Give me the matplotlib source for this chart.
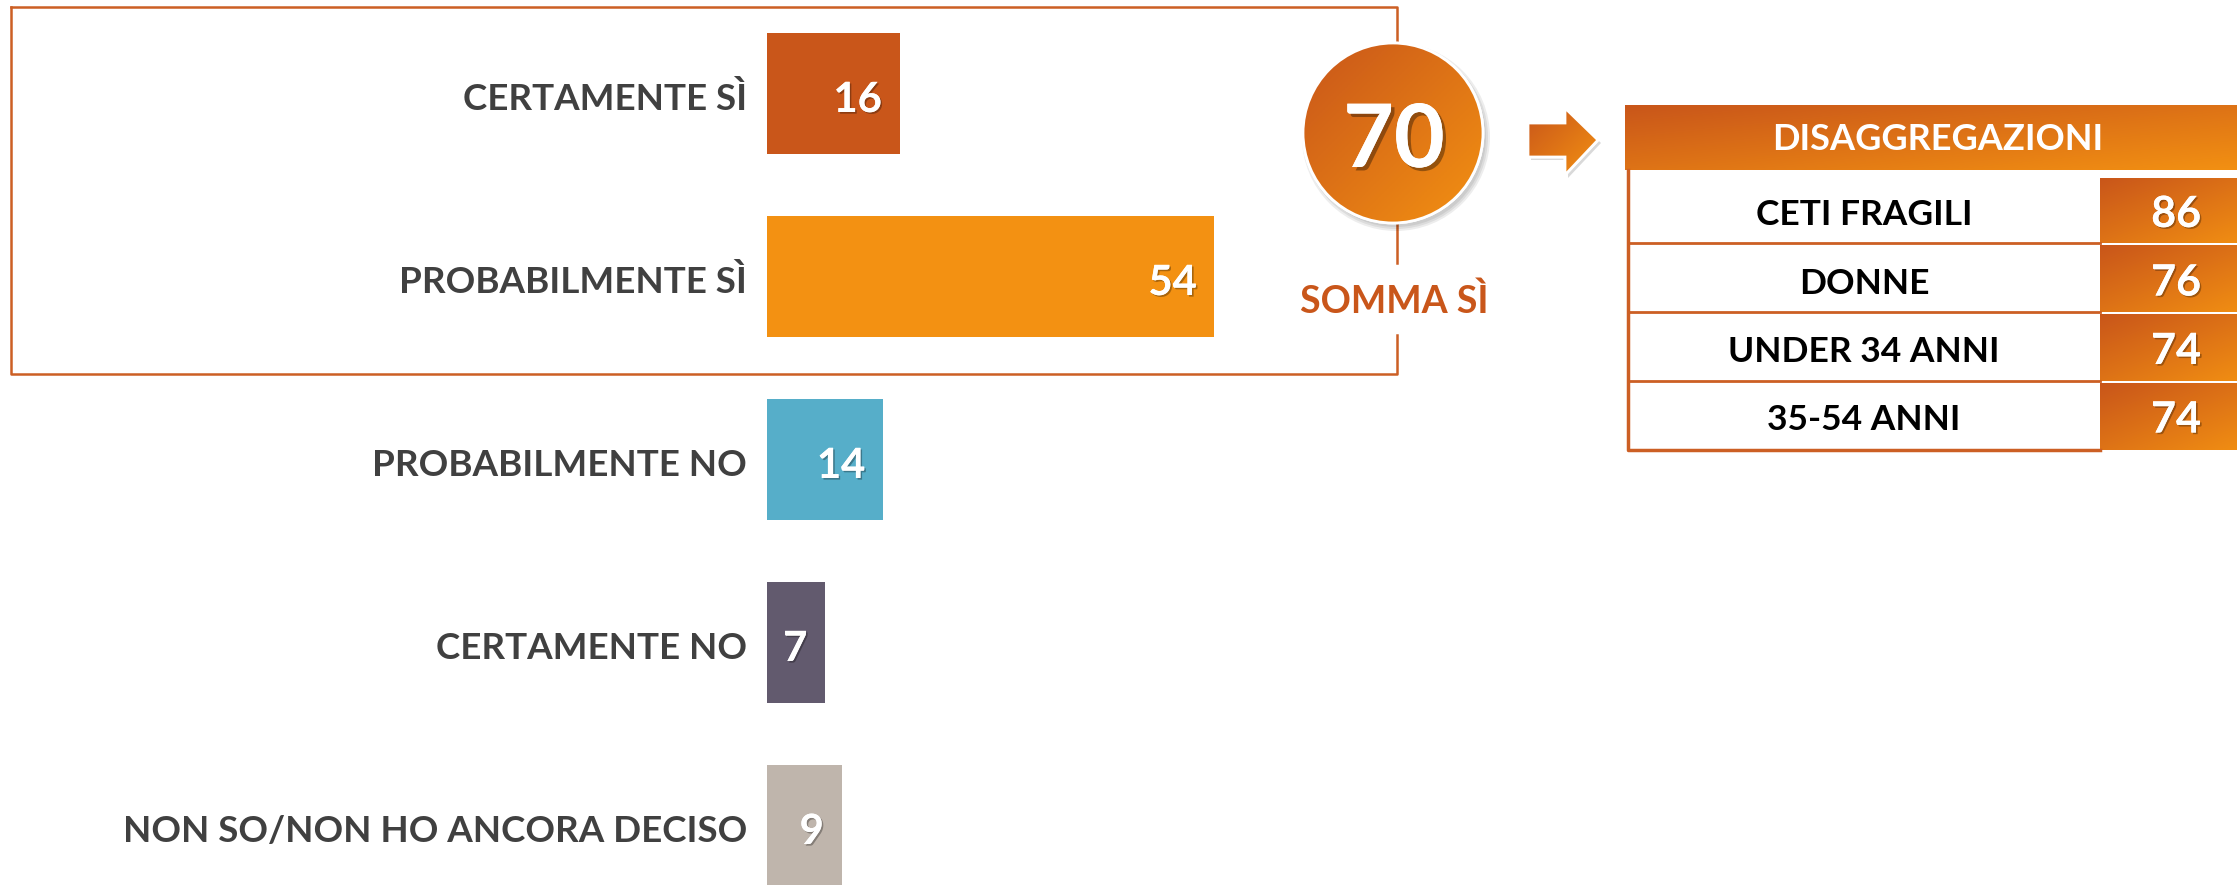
import matplotlib
matplotlib.use("Agg")
import matplotlib.pyplot as plt
import matplotlib.patheffects as pe
import numpy as np
from matplotlib.colors import LinearSegmentedColormap
from matplotlib.patches import Rectangle, Circle, Polygon

categories = ["CERTAMENTE SÌ", "PROBABILMENTE SÌ", "PROBABILMENTE NO",
              "CERTAMENTE NO", "NON SO/NON HO ANCORA DECISO"]
values = [16, 54, 14, 7, 9]
bar_colors = ["#C9561A", "#F39112", "#56AEC9", "#625A6E", "#BFB5AC"]

somma_label = "SOMMA SÌ"
somma = values[0] + values[1]

table_title = "DISAGGREGAZIONI"
groups = ["CETI FRAGILI", "DONNE", "UNDER 34 ANNI", "35-54 ANNI"]
group_values = [86, 76, 74, 74]

plt.rcParams["font.family"] = ["Lato", "DejaVu Sans"]

W, H = 2237, 885
DARK = "#C9561A"
LIGHT = "#F39112"
LINE = "#CC5F24"
grad_cmap = LinearSegmentedColormap.from_list("og", [DARK, LIGHT])

shadow = [pe.withSimplePatchShadow(offset=(1.2, -1.2), shadow_rgbFace="black", alpha=0.3), pe.Normal()]

fig = plt.figure(figsize=(W / 100, H / 100), dpi=100)

# bar chart (8.29 px per unit, 183 px between rows)
ax = fig.add_axes([767 / W, 0, 580 / W, 1])
y = np.arange(len(categories))
ax.barh(y, values, height=0.66, color=bar_colors)
ax.set_xlim(0, 70)
ax.set_ylim(4.325, -0.511)
ax.set_xticks([])
ax.set_yticks([])
for s in ax.spines.values():
    s.set_visible(False)
ax.patch.set_alpha(0)
for i, (cat, v) in enumerate(zip(categories, values)):
    ax.text(-2.41, i + 0.09, cat, ha="right", va="baseline", fontsize=26.5,
            fontweight="bold", color="#404040", clip_on=False)
    ax.text(v - 2.15, i + 0.101, str(v), ha="right", va="baseline", fontsize=30,
            fontweight="bold", color="white", path_effects=shadow)

# overlay in pixel coordinates
ov = fig.add_axes([0, 0, 1, 1])
ov.set_axis_off()
ov.patch.set_alpha(0)


def grad_patch(patch, zorder=3):
    ov.add_patch(patch)
    patch.set_zorder(zorder)
    x0, y0, x1, y1 = patch.get_extents().transformed(ov.transData.inverted()).extents
    g = np.add.outer(np.linspace(0, 1, 64), np.linspace(0, 1, 64)) / 2
    im = ov.imshow(g, cmap=grad_cmap, extent=[x0, x1, max(y0, y1), min(y0, y1)],
                   origin="upper", aspect="auto", zorder=zorder, vmin=0, vmax=1)
    im.set_clip_path(patch)
    return im


# frame round the "si" bars
fx0, fy0, fx1, fy1 = 11, 7, 1397, 374
ov.plot([fx0, fx0, fx1, fx1], [fy0, fy1, fy1, 335], color=LINE, lw=1.8, zorder=2)
ov.plot([fx0, fx1, fx1], [fy0, fy0, 60], color=LINE, lw=1.8, zorder=2)
ov.plot([fx1, fx1], [215, 263], color=LINE, lw=1.8, zorder=2)

# circle
cx, cy, r = 1393, 133, 90
for k in range(3):
    ov.add_patch(Circle((cx + 3, cy + 4), r + 4 - 2 * k, fc="black", ec="none", alpha=0.07, zorder=3))
circ = Circle((cx, cy), r, fc="none", ec="white", lw=2)
grad_patch(circ, zorder=4)
ov.add_patch(Circle((cx, cy), r, fc="none", ec="white", lw=2, zorder=5))
ov.text(cx + 1, 167, str(somma), ha="center", va="baseline", fontsize=63,
        fontweight="bold", color="white", zorder=6,
        path_effects=[pe.withSimplePatchShadow(offset=(2.5, -2.5), shadow_rgbFace="black", alpha=0.35), pe.Normal()])
ov.text(cx + 1, 313, somma_label, ha="center", va="baseline", fontsize=27,
        fontweight="bold", color=DARK, zorder=6)

# arrow
arrow_pts = [(1528, 123), (1565, 123), (1565, 108), (1598, 140),
             (1565, 175), (1565, 157), (1528, 157)]
ov.add_patch(Polygon([(px + 3, py + 3) for px, py in arrow_pts], fc="black", ec="none", alpha=0.15, zorder=3))
arr = Polygon(arrow_pts, fc="none", ec="white", lw=2)
grad_patch(arr, zorder=4)
ov.add_patch(Polygon(arrow_pts, fc="none", ec="white", lw=2, zorder=5))

# table
tx0, tx_mid, tx1 = 1625, 2100, 2260
header = Rectangle((tx0, 105), tx1 - tx0, 65, fc="none", ec="none")
grad_patch(header, zorder=4)
ov.text(1938, 150, table_title, ha="center", va="baseline", fontsize=26,
        fontweight="bold", color="white", zorder=6)

row_edges = [170, 243, 312, 381, 450]
ov.plot([1628, 1628, tx_mid], [170, 450, 450], color=LINE, lw=2.5, zorder=5)
for k, (lab, val) in enumerate(zip(groups, group_values)):
    top, bot = row_edges[k], row_edges[k + 1]
    if k > 0:
        ov.plot([1628, tx_mid], [top, top], color=LINE, lw=2, zorder=5)
    gap = 8 if k == 0 else 2
    cell = Rectangle((tx_mid, top + gap), tx1 - tx_mid, bot - top - gap, fc="none", ec="none")
    grad_patch(cell, zorder=4)
    base = 225 + 68.5 * k
    ov.text(1864, base, lab, ha="center", va="baseline", fontsize=25.5,
            fontweight="bold", color="black", zorder=6)
    ov.text(2176, base + 2, str(val), ha="center", va="baseline", fontsize=31,
            fontweight="bold", color="white", zorder=6, path_effects=shadow)

ov.set_xlim(0, W)
ov.set_ylim(H, 0)

fig.savefig("out.png", dpi=100)
